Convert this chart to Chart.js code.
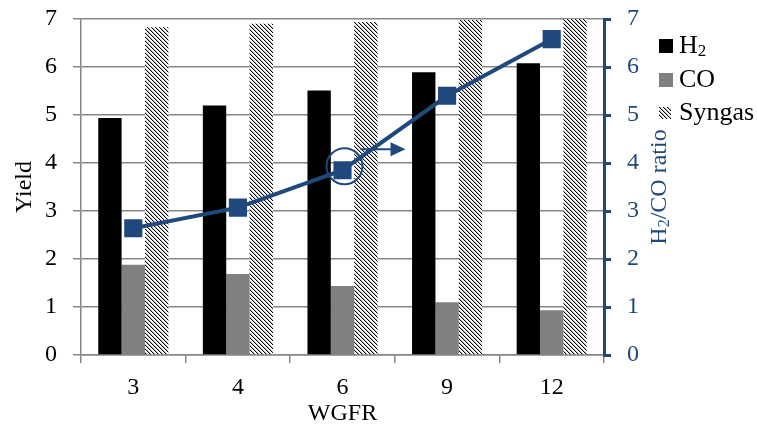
<!DOCTYPE html>
<html>
<head>
<meta charset="utf-8">
<script src="https://cdn.jsdelivr.net/npm/chart.js@4"></script>
<style>
  body { margin: 0; background: #fff; }
  #wrap { width: 757px; height: 428px; }
</style>
</head>
<body>
<div id="wrap"><canvas id="chart" width="757" height="428"></canvas></div>
<script>
// data
var wgfr = ["3", "4", "6", "9", "12"];
var h2Yield = [4.94, 5.20, 5.51, 5.89, 6.08];
var coYield = [1.88, 1.69, 1.44, 1.10, 0.93];
var syngasYield = [6.83, 6.90, 6.94, 6.98, 7.0];
var h2coRatio = [2.64, 3.07, 3.85, 5.40, 6.58];
var yTicks = [0, 1, 2, 3, 4, 5, 6, 7];

var azul = "#1F497D";
var gris = "#868686";
var fuente = "'Liberation Serif', 'Times New Roman', serif";

// hatch for syngas bars
function rayado() {
  var c = document.createElement("canvas");
  c.width = 4; c.height = 4;
  var g = c.getContext("2d");
  g.fillStyle = "#fff";
  g.fillRect(0, 0, 4, 4);
  g.fillStyle = "#000";
  for (var i = 0; i < 4; i++) g.fillRect(i, i, 1, 1);
  g.fillStyle = "#bbb";
  for (var j = 0; j < 4; j++) g.fillRect((j + 1) % 4, j, 1, 1);
  return g.createPattern(c, "repeat");
}
var patron = rayado();

// H + subscript 2 + rest
function textoH2(ctx, x, y, resto, size) {
  ctx.font = size + "px " + fuente;
  ctx.fillText("H", x, y);
  var w = ctx.measureText("H").width;
  ctx.font = Math.round(size * 0.65) + "px " + fuente;
  ctx.fillText("2", x + w, y + size * 0.22);
  var w2 = ctx.measureText("2").width;
  ctx.font = size + "px " + fuente;
  ctx.fillText(resto, x + w + w2, y);
  return w + w2 + ctx.measureText(resto).width;
}

// no extra room for the end labels of the y axes
function sinRelleno(s, ancho) {
  s.width = ancho;
  s.paddingTop = 0;
  s.paddingBottom = 0;
}

var extras = {
  id: "extras",
  afterDraw: function(chart) {
    var ctx = chart.ctx;
    ctx.save();
    // circle + arrow on the 6 point
    var p = chart.getDatasetMeta(3).data[2];
    ctx.strokeStyle = azul;
    ctx.fillStyle = azul;
    ctx.lineWidth = 2;
    ctx.beginPath();
    ctx.arc(p.x + 2, p.y - 4, 18, 0, Math.PI * 2);
    ctx.stroke();
    ctx.beginPath();
    ctx.moveTo(p.x + 18, p.y - 21);
    ctx.lineTo(p.x + 50, p.y - 21);
    ctx.stroke();
    ctx.beginPath();
    ctx.moveTo(p.x + 63, p.y - 21);
    ctx.lineTo(p.x + 48, p.y - 28);
    ctx.lineTo(p.x + 48, p.y - 14);
    ctx.closePath();
    ctx.fill();

    // legend
    var lx = 659, ly = [46, 80, 113];
    ctx.textBaseline = "middle";
    ctx.fillStyle = "#000";
    ctx.fillRect(lx, ly[0] - 7, 14, 14);
    ctx.fillStyle = "#808080";
    ctx.fillRect(lx, ly[1] - 7, 14, 14);
    ctx.fillStyle = patron;
    ctx.fillRect(lx, ly[2] - 6, 12, 12);
    ctx.fillStyle = "#000";
    textoH2(ctx, lx + 20, ly[0], "", 26);
    ctx.font = "26px " + fuente;
    ctx.fillText("CO", lx + 20, ly[1]);
    ctx.fillText("Syngas", lx + 20, ly[2]);

    // right axis title, reading upward
    var a = chart.chartArea;
    ctx.font = "24px " + fuente;
    var wTot = ctx.measureText("H2/CO ratio").width - 4;
    ctx.translate(660, (a.top + a.bottom) / 2);
    ctx.rotate(-Math.PI / 2);
    ctx.fillStyle = azul;
    textoH2(ctx, -wTot / 2, 0, "/CO ratio", 24);
    ctx.restore();
  }
};

var canvas = document.getElementById("chart").getContext("2d");
window.bar = new Chart(canvas, {
  type: "bar",
  data: {
    labels: wgfr,
    datasets: [
      { label: "H2", data: h2Yield, backgroundColor: "#000", yAxisID: "y", order: 2 },
      { label: "CO", data: coYield, backgroundColor: "#808080", yAxisID: "y", order: 2 },
      { label: "Syngas", data: syngasYield, backgroundColor: patron, yAxisID: "y", order: 2 },
      {
        type: "line", label: "H2/CO ratio", data: h2coRatio, yAxisID: "y1", order: 1,
        borderColor: azul, backgroundColor: azul, borderWidth: 4,
        pointStyle: "rect", pointRadius: 10, pointHoverRadius: 10,
        pointBorderColor: azul, pointBackgroundColor: azul
      }
    ]
  },
  plugins: [extras],
  options: {
    responsive: false,
    animation: false,
    events: [],
    layout: { padding: { top: 19, left: 0, right: 0, bottom: 0 } },
    datasets: { bar: { categoryPercentage: 0.67, barPercentage: 1.0 } },
    plugins: { legend: { display: false }, tooltip: { enabled: false } },
    scales: {
      x: {
        grid: { drawOnChartArea: false, drawTicks: true, tickLength: 8, color: gris, lineWidth: 1.5 },
        border: { color: gris, width: 1.5 },
        ticks: { color: "#000", font: { family: fuente, size: 24 }, padding: 10 },
        title: { display: true, text: "WGFR", color: "#000", font: { family: fuente, size: 24, weight: "normal" }, padding: { top: 0, bottom: 0 } },
        afterFit: function(s) { s.height = 73; }
      },
      y: {
        position: "left", min: 0, max: 7,
        afterBuildTicks: function(s) { s.ticks = yTicks.map(function(v) { return { value: v }; }); },
        grid: { color: gris, lineWidth: 1.5, tickLength: 8 },
        border: { color: gris, width: 1.5 },
        ticks: { color: "#000", font: { family: fuente, size: 24 }, padding: 16 },
        title: { display: true, text: "Yield", color: "#000", font: { family: fuente, size: 24, weight: "normal" }, padding: { top: 10, bottom: 0 } },
        afterFit: function(s) { sinRelleno(s, 81); }
      },
      y1: {
        position: "right", min: 0, max: 7,
        afterBuildTicks: function(s) { s.ticks = yTicks.map(function(v) { return { value: v }; }); },
        grid: { drawOnChartArea: false, color: azul, lineWidth: 3, tickLength: 7 },
        border: { color: azul, width: 3 },
        ticks: { color: azul, font: { family: fuente, size: 24 }, padding: 16 },
        afterFit: function(s) { sinRelleno(s, 153); }
      }
    }
  }
});
</script>
</body>
</html>
